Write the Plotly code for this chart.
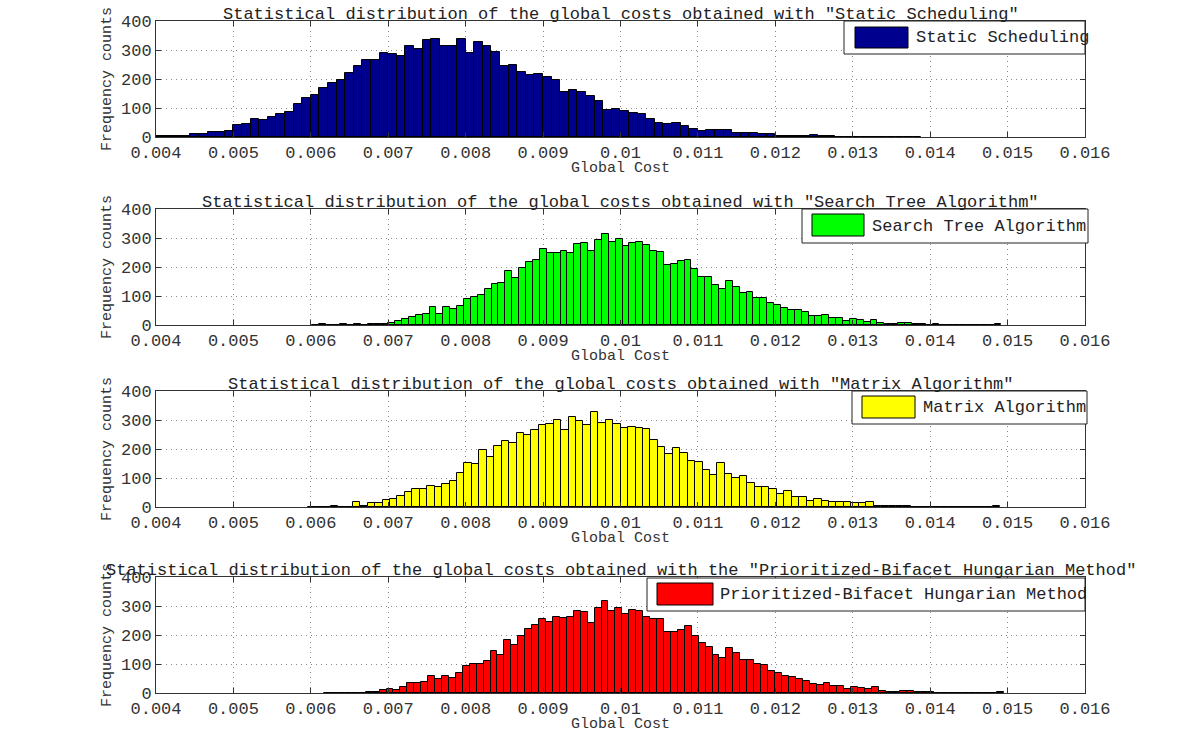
import plotly.graph_objects as go
from plotly.subplots import make_subplots

# bin counts, left to right
static_counts = [3, 3, 2, 5, 10, 12, 17, 18, 20,
                 42, 46, 61, 60, 70, 78, 87, 113, 136, 145, 169, 185, 198, 221, 244, 267, 267,
                 290, 285, 280, 315, 303, 336, 338, 315, 315, 338, 289, 329, 313, 292, 246, 250, 223,
                 214, 217, 206, 198, 154, 162, 155, 141, 123, 94, 95, 89, 83, 79, 61, 49, 44, 47,
                 39, 28, 21, 23, 23, 25, 13, 15, 13, 10, 9, 5, 5, 2, 2, 8, 2, 5, 1,
                 0, 0, 1, 0, 0, 1, 0, 0, 1]
search_counts = [1, 2, 0, 1, 2, 1, 3, 1, 4, 2, 3,
                 8, 14, 22, 27, 33, 37, 61, 37, 61, 54, 67, 89, 98, 102, 123, 140, 144, 187, 161,
                 197, 218, 225, 261, 248, 248, 254, 249,
                 280, 282, 254, 292, 313, 285, 295, 271, 282, 285, 276, 256, 253, 207, 210, 220,
                 225, 194, 166, 166, 137, 123, 152, 131, 110, 114, 92, 92, 75, 68, 60, 52, 51, 44,
                 32, 31, 34, 23, 23, 14, 20, 16, 10, 16, 6, 5, 5, 6, 6, 3, 2, 1, 2, 1, 0, 0, 1, 0,
                 0, 1, 0, 2]
matrix_counts = [1, 0, 1, 2, 1, 1,
                 16, 5, 13, 14, 23, 28, 37, 52, 63, 61, 72, 69, 79, 91, 116, 152, 147, 197, 174,
                 209, 229, 222, 254, 247, 264, 283, 285, 300, 266, 309,
                 297, 282, 326, 289, 299, 285, 274, 276, 271, 270, 232, 207, 182, 202, 185, 157,
                 154, 126, 110, 152, 113, 101, 107, 84, 68, 68, 62, 45, 54, 33, 33, 22, 29, 20,
                 18, 16, 16, 13, 13, 16, 5, 5, 3, 3, 2,
                 0, 0, 1, 1, 0, 0, 0, 1, 0, 0, 0, 2]
hungarian_counts = [1, 0, 0, 1, 1, 0, 2, 4,
                    10, 15, 10, 20, 34, 34, 39, 59, 48, 57, 52, 68, 93, 100, 100, 111, 146, 131,
                    184, 164, 195, 221, 233, 254, 244, 261, 257, 262,
                    284, 278, 240, 292, 317, 284, 292, 271, 286, 284, 263, 254, 254, 209, 211, 217,
                    231, 197, 171, 160, 132, 122, 155, 139, 114, 115, 99, 95, 77, 70, 60, 55, 49,
                    41, 31, 29, 33, 24, 24, 15, 20, 17, 13, 20, 6, 5, 3, 6, 7, 5, 2, 2, 1, 1,
                    0, 1, 0, 0, 0, 1, 0, 2]

# left edge of first bin and bin width of each histogram
static_start, static_bin = 0.004, 0.0001111
search_start, search_bin = 0.006021, 0.000089
matrix_start, matrix_bin = 0.005966, 0.0000961
hungarian_start, hungarian_bin = 0.006171, 0.0000896

names = ['Static Scheduling', 'Search Tree Algorithm', 'Matrix Algorithm',
         'Prioritized-Bifacet Hungarian Method']
titles = ['Statistical distribution of the global costs obtained with "Static Scheduling"',
          'Statistical distribution of the global costs obtained with "Search Tree Algorithm"',
          'Statistical distribution of the global costs obtained with "Matrix Algorithm"',
          'Statistical distribution of the global costs obtained with the "Prioritized-Bifacet Hungarian Method"']
colors = ['#00008F', '#00FF00', '#FFFF00', '#FF0000']
series = [(static_counts, static_start, static_bin),
          (search_counts, search_start, search_bin),
          (matrix_counts, matrix_start, matrix_bin),
          (hungarian_counts, hungarian_start, hungarian_bin)]

W, H = 1200, 738
FONT = 'Liberation Mono'


def px(x):
    return x / W


def py(y):
    return 1 - y / H


# plot frames in pixels (top, bottom)
frames = [(21, 137), (209, 325), (391, 507), (577, 693)]
# legend box, patch (x0, y0, x1, y1) and text x
legends = [((844, 21, 1085, 54), (855, 27, 908, 48), 914),
           ((802, 209, 1088, 243), (812, 214, 864, 236), 870),
           ((852, 391, 1087, 424), (862, 396, 915, 418), 921),
           ((647, 578, 1085, 611), (657, 583, 713, 605), 718)]

fig = make_subplots(rows=4, cols=1)

shapes = []
annotations = []
for i, ((counts, start, width), color) in enumerate(zip(series, colors)):
    r = i + 1
    fig.add_trace(go.Bar(y=counts, x0=start + width / 2, dx=width, width=width,
                         marker=dict(color=color, line=dict(color='black', width=1)),
                         name=names[i], showlegend=False), row=r, col=1)
    top, bottom = frames[i]
    fig.update_xaxes(domain=[px(156), px(1085)], range=[0.004, 0.016], dtick=0.001,
                     tick0=0.004, exponentformat='none', row=r, col=1)
    fig.update_yaxes(domain=[py(bottom), py(top)], range=[0, 400], dtick=100, row=r, col=1)

    xd = 'x domain' if r == 1 else f'x{r} domain'
    yd = 'y domain' if r == 1 else f'y{r} domain'
    annotations.append(dict(text=titles[i], xref=xd, yref=yd, x=0.5, y=1,
                            xanchor='center', yanchor='bottom', yshift=-5,
                            showarrow=False, font=dict(family=FONT, size=17, color='#222')))
    annotations.append(dict(text='Global Cost', xref=xd, yref=yd, x=0.5, y=0,
                            xanchor='center', yanchor='middle', yshift=-31,
                            showarrow=False, font=dict(family=FONT, size=15, color='#333')))
    annotations.append(dict(text='Frequency counts', xref=xd, yref=yd, x=0, y=0.5,
                            xanchor='center', yanchor='middle', xshift=-49, textangle=-90,
                            showarrow=False, font=dict(family=FONT, size=15, color='#333')))

    box, patch, tx = legends[i]
    shapes.append(dict(type='rect', xref='paper', yref='paper',
                       x0=px(box[0]), x1=px(box[2]), y0=py(box[3]), y1=py(box[1]),
                       fillcolor='white', line=dict(color='#222', width=1)))
    shapes.append(dict(type='rect', xref='paper', yref='paper',
                       x0=px(patch[0]), x1=px(patch[2]), y0=py(patch[3]), y1=py(patch[1]),
                       fillcolor=color, line=dict(color='black', width=1)))
    annotations.append(dict(text=names[i], xref='paper', yref='paper',
                            x=px(tx), y=py((box[1] + box[3]) / 2),
                            xanchor='left', yanchor='middle', showarrow=False,
                            font=dict(family=FONT, size=17, color='#222')))

axis_style = dict(showline=True, linecolor='#333', linewidth=1, mirror='ticks',
                  ticks='inside', ticklen=5, tickcolor='#333', automargin=False,
                  showgrid=True, gridcolor='#888', griddash='1px,4px', gridwidth=1,
                  zeroline=False, tickfont=dict(family=FONT, size=17, color='#333'))
fig.update_xaxes(**axis_style)
fig.update_yaxes(**axis_style)

fig.update_layout(width=W, height=H, margin=dict(l=0, r=0, t=0, b=0),
                  paper_bgcolor='white', plot_bgcolor='white',
                  bargap=0, showlegend=False,
                  shapes=shapes, annotations=annotations,
                  font=dict(family=FONT, color='#222'))

# drop the page's default body margin so the figure sits at the window corner
fig.write_html("out.html", config={'displayModeBar': False},
               post_script="document.body.style.margin = '0';")
